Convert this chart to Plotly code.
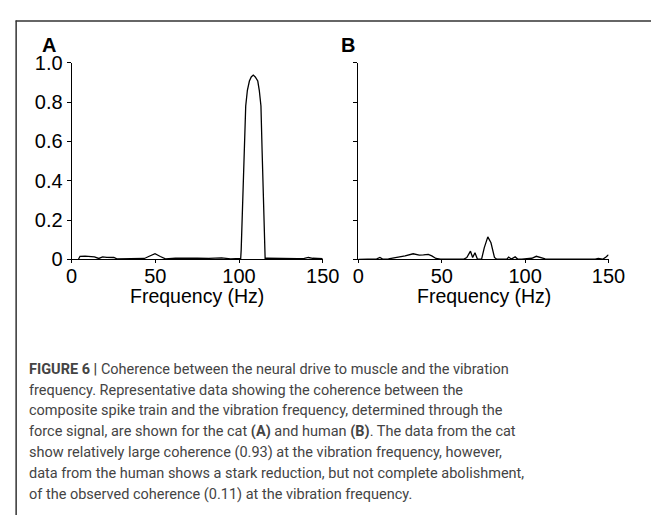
import plotly.graph_objects as go

W, H = 668, 526

# ---------------- data ----------------
freq_a = [4, 5, 8, 11, 13.6, 16.2, 18.5, 21, 25.2, 27, 32, 38, 43.5, 46, 49.8, 53, 56,
          62, 68, 75, 82, 89.6, 95, 100, 101.0, 101.3, 101.8, 102.5, 103.2, 104.0, 105.0,
          106.2, 107.3, 108.5, 109.7, 111.2, 112.1, 113.1, 113.8, 114.4, 114.9, 115.2,
          115.6, 116.5, 125, 135, 139, 141.5, 144, 147, 150]
coh_a = [0.0, 0.016, 0.017, 0.015, 0.013, 0.005, 0.013, 0.011, 0.010, 0.003, 0.003, 0.004,
         0.005, 0.015, 0.029, 0.015, 0.003, 0.006, 0.007, 0.006, 0.005, 0.008, 0.003, 0.004,
         0.005, 0.05, 0.2, 0.37, 0.55, 0.78, 0.86, 0.907, 0.928, 0.937, 0.928, 0.907, 0.86,
         0.78, 0.55, 0.37, 0.2, 0.05, 0.005, 0.006, 0.004, 0.004, 0.005, 0.010, 0.006,
         0.004, 0.004]

freq_b = [0, 5, 7, 9, 11, 12.9, 14.5, 18, 20, 22.2, 28, 32.8, 36.5, 39, 41.9, 44, 46.5, 49.2,
          55, 63, 65, 67.2, 68.5, 69.9, 71.4, 73.9, 75.5, 77.6, 79.5, 81.6, 83, 89,
          90.1, 91.7, 94.0, 95.5, 98, 100, 102, 104, 106.7, 109, 112, 115, 130, 142,
          143.8, 146.5, 148.5, 150]
coh_b = [0.0, 0.002, 0.004, 0.002, 0.003, 0.010, 0.002, 0.003, 0.006, 0.008, 0.018, 0.029,
         0.022, 0.023, 0.026, 0.018, 0.005, 0.001, 0.001, 0.001, 0.010, 0.042, 0.010, 0.034,
         0.001, 0.003, 0.060, 0.115, 0.085, 0.010, 0.001, 0.001, 0.012, 0.002, 0.013, 0.002,
         0.002, 0.004, 0.003, 0.006, 0.016, 0.010, 0.003, 0.001, 0.001, 0.002, 0.005, 0.001,
         0.012, 0.024]

y_ticks = [0, 0.2, 0.4, 0.6, 0.8, 1.0]
y_tick_labels = ["0", "0.2", "0.4", "0.6", "0.8", "1.0"]
x_ticks = [0, 50, 100, 150]
x_tick_labels = ["0", "50", "100", "150"]
panel_labels = ["A", "B"]
x_title = "Frequency (Hz)"

caption_lines = [
    "<b>FIGURE 6 |</b> Coherence between the neural drive to muscle and the vibration",
    "frequency. Representative data showing the coherence between the",
    "composite spike train and the vibration frequency, determined through the",
    "force signal, are shown for the cat <b>(A)</b> and human <b>(B)</b>. The data from the cat",
    "show relatively large coherence (0.93) at the vibration frequency, however,",
    "data from the human shows a stark reduction, but not complete abolishment,",
    "of the observed coherence (0.11) at the vibration frequency.",
]

# ---------------- layout helpers ----------------
def px(x):
    return x / W

def py(y):
    return (H - y) / H

SANS = "Liberation Sans, Arial, sans-serif"
AX_FONT = dict(family=SANS, size=20, color="black")

fig = go.Figure()
fig.add_trace(go.Scatter(x=freq_a, y=coh_a, mode="lines", line=dict(color="black", width=1.3),
                         xaxis="x", yaxis="y", showlegend=False))
fig.add_trace(go.Scatter(x=freq_b, y=coh_b, mode="lines", line=dict(color="black", width=1.3),
                         xaxis="x2", yaxis="y2", showlegend=False))

ydom = [py(259.3), py(54)]
common_x = dict(range=[0, 150], tickvals=x_ticks, ticktext=x_tick_labels, showline=True,
                linecolor="black", linewidth=1, ticks="outside", ticklen=3, tickcolor="black",
                showgrid=False, zeroline=False, tickfont=AX_FONT, fixedrange=True,
                ticklabelstandoff=-4)
common_y = dict(range=[0, 1], tickvals=y_ticks, ticktext=y_tick_labels, showline=True,
                linecolor="black", linewidth=1, ticks="outside", ticklen=4, tickcolor="black",
                showgrid=False, zeroline=False, tickfont=AX_FONT, domain=ydom, fixedrange=True)

fig.update_layout(
    width=W, height=H,
    margin=dict(l=0, r=0, t=0, b=0),
    paper_bgcolor="white", plot_bgcolor="white",
    xaxis=dict(common_x, domain=[px(68), px(328)], anchor="y"),
    yaxis=dict(common_y, anchor="x"),
    xaxis2=dict(common_x, domain=[px(365), px(624)], anchor="y2"),
    yaxis2=dict(common_y, anchor="x2", showticklabels=False),
)

annotations = []
for lab, xl in zip(panel_labels, [35, 345]):
    annotations.append(dict(text=f"<b>{lab}</b>", x=px(xl), y=py(36), xref="paper", yref="paper",
                            xanchor="left", yanchor="middle", showarrow=False,
                            font=dict(family=SANS, size=20, color="black")))
for xc in [198, 495]:
    annotations.append(dict(text=x_title, x=px(xc), y=py(297), xref="paper", yref="paper",
                            xanchor="center", yanchor="middle", showarrow=False, borderpad=0,
                            font=dict(family=SANS, size=19.5, color="black")))
for i, line in enumerate(caption_lines):
    annotations.append(dict(text=line, x=px(22), y=py(374 + i * 21.7), xref="paper", yref="paper",
                            xanchor="left", yanchor="middle", showarrow=False,
                            font=dict(family="Roboto, sans-serif", size=14.5, color="#444444")))
fig.update_layout(annotations=annotations)

# frame lines (top and left)
fig.add_shape(type="line", xref="paper", yref="paper", x0=px(10), x1=1, y0=py(10.5), y1=py(10.5),
              line=dict(color="#333333", width=1.5))
fig.add_shape(type="line", xref="paper", yref="paper", x0=px(10.5), x1=px(10.5), y0=0, y1=py(10),
              line=dict(color="#333333", width=1.5))

fig.write_html("out.html", config={"displayModeBar": False},
               post_script="document.body.style.margin='0';document.body.style.overflow='hidden';")
